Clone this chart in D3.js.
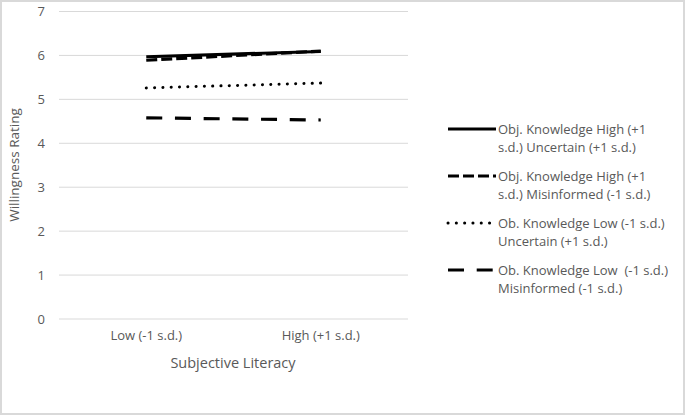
<!DOCTYPE html>
<html lang="en">
<head>
  <meta charset="UTF-8">
  <title>Willingness Rating by Subjective Literacy</title>
  <script src="https://d3js.org/d3.v7.min.js"></script>
  <style>
    body {
      margin: 0;
      background-color: #d9d9d9;
      overflow: hidden;
    }
    svg text {
      font-family: "Open Sans", sans-serif;
      fill: #595959;
      white-space: pre;
    }
  </style>
</head>
<body>
  <svg id="chart" width="685" height="415"></svg>

  <script>
    // data
    const categories = ["Low (-1 s.d.)", "High (+1 s.d.)"];
    const yTicks = [0, 1, 2, 3, 4, 5, 6, 7];

    const highUncertain = [5.97, 6.09];
    const highMisinformed = [5.89, 6.10];
    const lowUncertain = [5.26, 5.37];
    const lowMisinformed = [4.58, 4.53];

    const legendLabels = [
      ["Obj. Knowledge High (+1", "s.d.) Uncertain (+1 s.d.)"],
      ["Obj. Knowledge High (+1", "s.d.) Misinformed (-1 s.d.)"],
      ["Ob. Knowledge Low (-1 s.d.)", "Uncertain (+1 s.d.)"],
      ["Ob. Knowledge Low  (-1 s.d.)", "Misinformed (-1 s.d.)"]
    ];

    const series = [
      { values: highUncertain, dash: null, cap: "butt" },
      { values: highMisinformed, dash: "11,4", cap: "butt" },
      { values: lowUncertain, dash: "0.1,8.2", cap: "round" },
      { values: lowMisinformed, dash: "16,12.7", cap: "butt" }
    ];

    const svg = d3.select("#chart");

    svg.append("rect")
       .attr("x", 2).attr("y", 2)
       .attr("width", 681).attr("height", 411)
       .attr("fill", "#ffffff");

    const x = d3.scaleBand()
                .domain(categories)
                .range([59, 408]);

    const y = d3.scaleLinear()
                .domain([0, 7])
                .range([319, 11.5]);

    // gridlines
    svg.append("g")
       .selectAll("line")
       .data(yTicks)
       .enter()
       .append("line")
       .attr("x1", 59).attr("x2", 408)
       .attr("y1", d => y(d)).attr("y2", d => y(d))
       .attr("stroke", "#d9d9d9")
       .attr("stroke-width", 1);

    // y axis
    const yAxis = svg.append("g")
                     .attr("transform", "translate(45,0)")
                     .call(d3.axisLeft(y).tickValues(yTicks).tickFormat(d3.format("d")).tickSize(0).tickPadding(0));
    yAxis.select(".domain").remove();
    yAxis.selectAll("text").attr("font-size", "13px").style("fill", "#595959");

    // x axis
    const xAxis = svg.append("g")
                     .attr("transform", "translate(0,331)")
                     .call(d3.axisBottom(x).tickSize(0).tickPadding(0));
    xAxis.select(".domain").remove();
    xAxis.selectAll("text").attr("font-size", "13px").style("fill", "#595959");

    svg.append("text")
       .attr("x", 233).attr("y", 368)
       .attr("text-anchor", "middle")
       .attr("font-size", "14.5px")
       .text("Subjective Literacy");

    svg.append("text")
       .attr("transform", "translate(19,165) rotate(-90)")
       .attr("text-anchor", "middle")
       .attr("font-size", "13.5px")
       .text("Willingness Rating");

    // lines
    const line = d3.line()
                   .x((d, i) => x(categories[i]) + x.bandwidth() / 2)
                   .y(d => y(d));

    svg.append("g")
       .selectAll("path")
       .data(series)
       .enter()
       .append("path")
       .attr("d", d => line(d.values))
       .attr("fill", "none")
       .attr("stroke", "#000000")
       .attr("stroke-width", d => d.cap === "round" ? 3 : 3.2)
       .attr("stroke-linecap", d => d.cap)
       .attr("stroke-dasharray", d => d.dash);

    // legend
    const legend = svg.append("g")
                      .selectAll("g")
                      .data(series)
                      .enter()
                      .append("g")
                      .attr("transform", (d, i) => `translate(448, ${129 + i * 47})`);

    legend.append("line")
          .attr("x1", 0).attr("x2", 48)
          .attr("y1", 0).attr("y2", 0)
          .attr("stroke", "#000000")
          .attr("stroke-width", d => d.cap === "round" ? 3 : 3.2)
          .attr("stroke-linecap", d => d.cap)
          .attr("stroke-dasharray", d => d.dash);

    legend.append("text")
          .attr("font-size", "13px")
          .selectAll("tspan")
          .data((d, i) => legendLabels[i])
          .enter()
          .append("tspan")
          .attr("x", 50)
          .attr("y", (d, j) => 4.5 + j * 18.5)
          .text(d => d);
  </script>
</body>
</html>
